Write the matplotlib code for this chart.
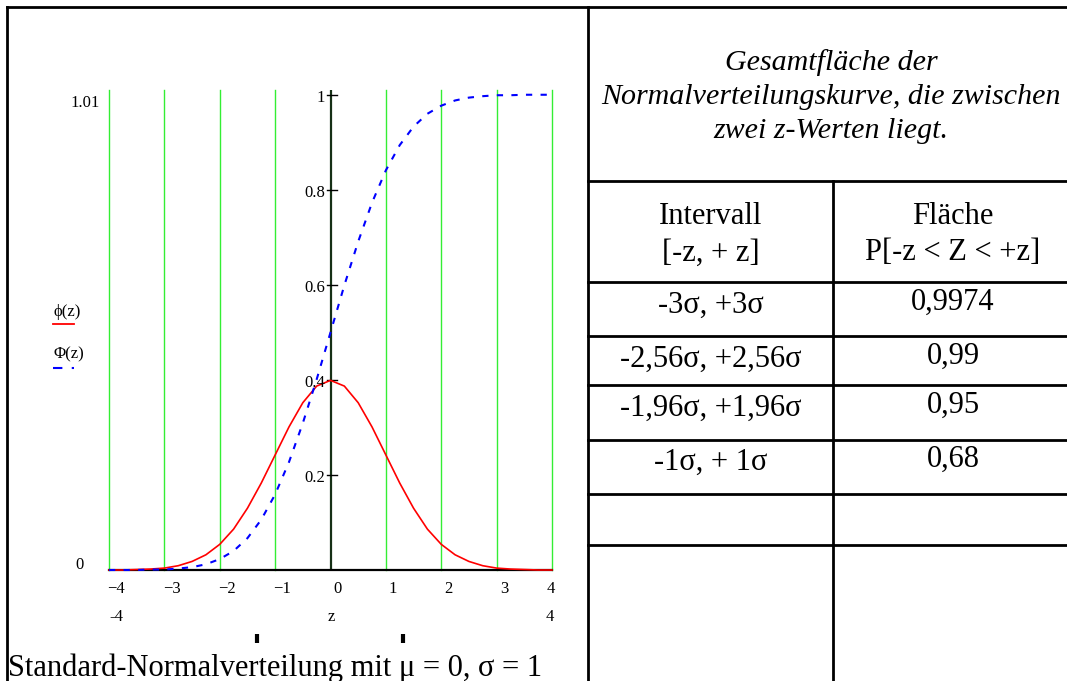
import matplotlib
matplotlib.use('Agg')
import matplotlib.pyplot as plt

plt.rcParams['font.family'] = ['Liberation Serif', 'DejaVu Serif']

# values (z, density phi(z), distribution Phi(z))
z = [-4.0, -3.75, -3.5, -3.25, -3.0, -2.75, -2.5, -2.25, -2.0, -1.75, -1.5, -1.25, -1.0,
     -0.75, -0.5, -0.25, 0.0, 0.25, 0.5, 0.75, 1.0, 1.25, 1.5, 1.75, 2.0, 2.25, 2.5,
     2.75, 3.0, 3.25, 3.5, 3.75, 4.0]
phi = [0.000, 0.000, 0.001, 0.002, 0.004, 0.009, 0.018, 0.032, 0.054, 0.086, 0.130, 0.183, 0.242,
       0.301, 0.352, 0.387, 0.399, 0.387, 0.352, 0.301, 0.242, 0.183, 0.130, 0.086, 0.054, 0.032, 0.018,
       0.009, 0.004, 0.002, 0.001, 0.000, 0.000]
Phi = [0.000, 0.000, 0.000, 0.001, 0.001, 0.003, 0.006, 0.012, 0.023, 0.040, 0.067, 0.106, 0.159,
       0.227, 0.309, 0.401, 0.500, 0.599, 0.691, 0.773, 0.841, 0.894, 0.933, 0.960, 0.977, 0.988, 0.994,
       0.997, 0.999, 0.999, 1.000, 1.000, 1.000]

x_ticks = [-4, -3, -2, -1, 0, 1, 2, 3, 4]
x_tick_labels = ['\u22124', '\u22123', '\u22122', '\u22121', '0', '1', '2', '3', '4']
y_ticks = [0.2, 0.4, 0.6, 0.8, 1.0]
y_tick_labels = ['0.2', '0.4', '0.6', '0.8', '1']

title_lines = ['Gesamtfläche der', 'Normalverteilungskurve, die zwischen', 'zwei z-Werten liegt.']
header_left = ['Intervall', '[-z, + z]']
header_right = ['Fläche', 'P[-z < Z < +z]']
intervals = ['-3σ, +3σ', '-2,56σ, +2,56σ', '-1,96σ, +1,96σ', '-1σ, + 1σ', '', '']
areas = ['0,9974', '0,99', '0,95', '0,68', '', '']
caption = 'Standard-Normalverteilung mit μ = 0, σ = 1'

W, H = 1067, 681
fig = plt.figure(figsize=(W / 100, H / 100), dpi=100)

# page / table layer in pixel coordinates
bg = fig.add_axes([0, 0, 1, 1])
bg.set_xlim(0, W)
bg.set_ylim(H, 0)
bg.axis('off')

lw = 2.0
bg.plot([7, W], [7, 7], color='black', lw=lw)
bg.plot([7, 7], [7, H], color='black', lw=lw)
bg.plot([588, 588], [7, H], color='black', lw=lw)
bg.plot([588, W], [181, 181], color='black', lw=lw)
bg.plot([833, 833], [181, H], color='black', lw=lw)
row_lines = [282, 336, 385, 440, 494, 545]
for y in row_lines:
    bg.plot([588, W], [y, y], color='black', lw=lw)

fs = 22
for i, line in enumerate(title_lines):
    bg.text(831, 63 + i * 34, line, ha='center', va='center', fontsize=21.6, style='italic')
for i, (a, b) in enumerate(zip(header_left, header_right)):
    bg.text(711, 217 + i * 36, a, ha='center', va='center', fontsize=fs)
    bg.text(953, 217 + i * 36, b, ha='center', va='center', fontsize=fs)

row_y = [305, 359, 408, 462, 518, 600]
for y, a, b in zip(row_y, intervals, areas):
    bg.text(711, y, a, ha='center', va='center', fontsize=fs)
    bg.text(953, y - 3, b, ha='center', va='center', fontsize=fs)

bg.text(8, 676, caption, ha='left', va='baseline', fontsize=fs)
bg.plot([257, 257], [634, 643], color='black', lw=3, solid_capstyle='butt')
bg.plot([403, 403], [634, 643], color='black', lw=3, solid_capstyle='butt')

# labels around the plot
small = 12
bg.text(100, 103, '1.01', ha='right', va='center', fontsize=small)
bg.text(80, 565, '0', ha='center', va='center', fontsize=small)
bg.text(116, 617, '-4', ha='center', va='center', fontsize=small)
bg.text(331, 617, 'z', ha='center', va='center', fontsize=small)
bg.text(550, 617, '4', ha='center', va='center', fontsize=small)

# legend
bg.text(53, 312, 'ϕ(z)', ha='left', va='center', fontsize=small)
bg.plot([53, 74], [324, 324], color='red', lw=1.3)
bg.text(53, 354, 'Φ(z)', ha='left', va='center', fontsize=small)
bg.plot([53, 74], [368, 368], color='blue', lw=1.5, ls=(0, (4.5, 4.5)))

# plot
ax = fig.add_axes([109 / W, (H - 570) / H, 443 / W, 480 / H])
ax.set_xlim(-4, 4)
ax.set_ylim(0, 1.01)
ax.axis('off')

for t in x_ticks:
    if t != 0:
        ax.plot([t, t], [0, 1.01], color='#33ee33', lw=1.0, clip_on=False)
ax.plot([0, 0], [0, 1.01], color='#163016', lw=1.6)
ax.plot([-4, 4], [0, 0], color='black', lw=1.6, clip_on=False)

for v, lab in zip(y_ticks, y_tick_labels):
    ax.plot([-0.07, 0.11], [v, v], color='black', lw=1.0)
    ax.text(-0.1, v - 0.006, lab, ha='right', va='center', fontsize=small)

for t, lab in zip(x_ticks, x_tick_labels):
    off = -0.02 if t == 4 else 0.13
    ax.text(t + off, -0.04, lab, ha='center', va='center', fontsize=small, clip_on=False)

ax.plot(z, phi, color='red', lw=1.2, clip_on=False)
ax.plot(z, Phi, color='blue', lw=1.5, ls=(0, (3, 4)), clip_on=False)

fig.savefig('out.png', dpi=100)
